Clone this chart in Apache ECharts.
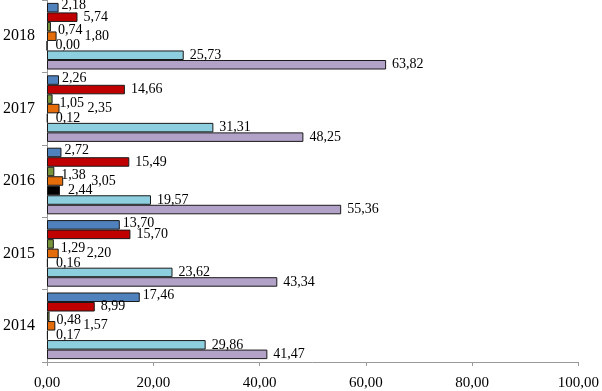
<!DOCTYPE html>
<html>
<head>
<meta charset="utf-8">
<script src="https://cdn.jsdelivr.net/npm/echarts@6/dist/echarts.min.js"></script>
<style>
html,body{margin:0;padding:0;background:#fff;}
#chart{width:602px;height:391px;}
</style>
</head>
<body>
<div id="chart"></div>
<script>
// years, bottom to top
var years = ['2014', '2015', '2016', '2017', '2018'];
var xTicks = [0, 20, 40, 60, 80, 100];

// series, listed from the top bar in each group downwards
var blueVals = [17.46, 13.70, 2.72, 2.26, 2.18];
var redVals = [8.99, 15.70, 15.49, 14.66, 5.74];
var greenVals = [0.48, 1.29, 1.38, 1.05, 0.74];
var orangeVals = [1.57, 2.20, 3.05, 2.35, 1.80];
var blackVals = [0.17, 0.16, 2.44, 0.12, 0.00];
var lightBlueVals = [29.86, 23.62, 19.57, 31.31, 25.73];
var purpleVals = [41.47, 43.34, 55.36, 48.25, 63.82];

var fmt = function (v) { return Number(v).toFixed(2).replace('.', ','); };
var font = 'Liberation Serif';

function bar(name, data, color, labelOpts) {
	var label = {
		show: true, position: 'right', distance: 6,
		fontFamily: font, fontSize: 14, color: '#000',
		formatter: function (p) { return fmt(p.value); }
	};
	for (var k in labelOpts) label[k] = labelOpts[k];
	return {
		name: name, type: 'bar', data: data,
		barGap: '0%', barCategoryGap: '8%',
		itemStyle: { color: color, borderColor: '#1a1a1a', borderWidth: 1 },
		label: label
	};
}

var chart = echarts.init(document.getElementById('chart'));
chart.setOption({
	animation: false,
	grid: { left: 45, right: 22, top: 0, bottom: 28 },
	xAxis: {
		type: 'value', min: xTicks[0], max: xTicks[xTicks.length - 1], interval: 20,
		axisLine: { show: true, lineStyle: { color: '#999' } },
		axisTick: { show: true, length: 4, lineStyle: { color: '#999' } },
		splitLine: { show: false },
		axisLabel: { fontFamily: font, fontSize: 15, color: '#000', margin: 14, formatter: fmt }
	},
	yAxis: {
		type: 'category', data: years,
		axisLine: { show: true, lineStyle: { color: '#999' } },
		axisTick: { show: true, length: 5, lineStyle: { color: '#999' } },
		axisLabel: { fontFamily: font, fontSize: 16, color: '#000', margin: 12 }
	},
	// in this layout the first series sits at the top of each group
	series: [
		bar('blue', blueVals, '#4f81bd', { distance: 3, offset: [0, -2] }),
		bar('red', redVals, '#c00000'),
		bar('green', greenVals, '#77933c', { distance: 7, offset: [0, 4] }),
		bar('orange', orangeVals, '#e46c0a', { distance: 28 }),
		bar('black', blackVals, '#000000', { distance: 8 }),
		bar('lightblue', lightBlueVals, '#8ecfdf'),
		bar('purple', purpleVals, '#b3a2c7')
	]
});
</script>
</body>
</html>
